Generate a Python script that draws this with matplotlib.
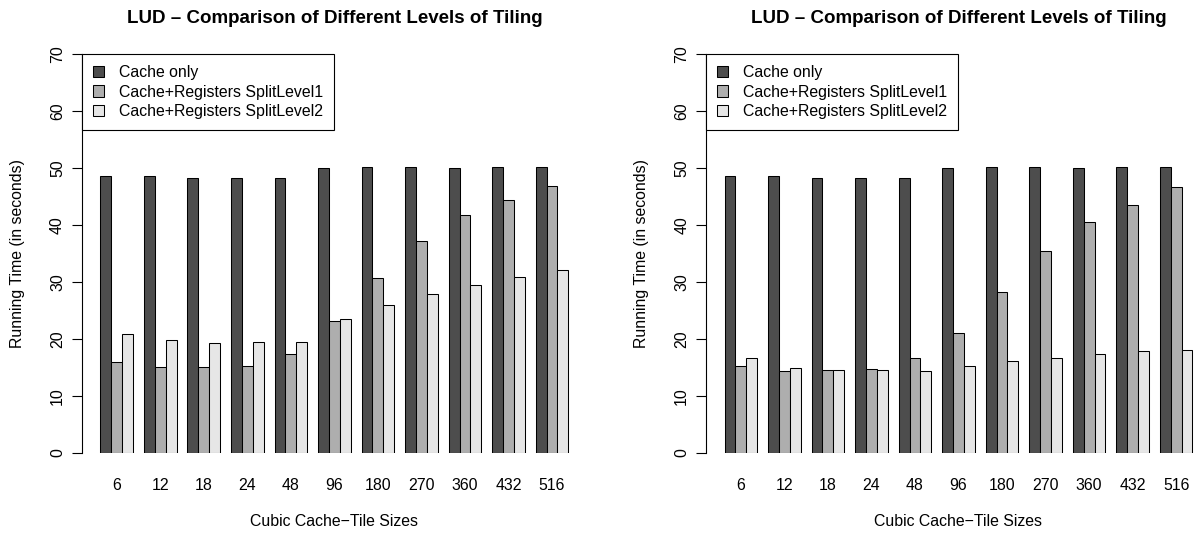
import matplotlib
matplotlib.use("Agg")
import matplotlib.pyplot as plt
import numpy as np

plt.rcParams['font.family'] = ['Liberation Sans', 'DejaVu Sans']

categories = ["6", "12", "18", "24", "48", "96", "180", "270", "360", "432", "516"]
series_names = ["Cache only", "Cache+Registers SplitLevel1", "Cache+Registers SplitLevel2"]

# Left panel
left_cache = [48.5, 48.6, 48.3, 48.2, 48.2, 49.9, 50.2, 50.2, 50.0, 50.2, 50.2]
left_sl1 = [16.0, 15.1, 15.0, 15.2, 17.3, 23.2, 30.6, 37.1, 41.7, 44.4, 46.9]
left_sl2 = [20.8, 19.7, 19.3, 19.4, 19.5, 23.4, 25.9, 27.9, 29.4, 30.9, 32.0]

# Right panel
right_cache = [48.5, 48.6, 48.3, 48.2, 48.2, 49.9, 50.2, 50.2, 50.0, 50.2, 50.2]
right_sl1 = [15.2, 14.3, 14.5, 14.7, 16.7, 21.1, 28.3, 35.4, 40.5, 43.5, 46.6]
right_sl2 = [16.6, 14.9, 14.6, 14.5, 14.3, 15.2, 16.1, 16.7, 17.4, 17.9, 18.0]

yticks = [0, 10, 20, 30, 40, 50, 60, 70]
title = "LUD \u2013 Comparison of Different Levels of Tiling"
xlabel = "Cubic Cache\u2212Tile Sizes"
ylabel = "Running Time (in seconds)"

colors = ["#4D4D4D", "#AEAEAE", "#E6E6E6"]

W, H = 1204, 533
fig = plt.figure(figsize=(W / 100, H / 100), dpi=100)

FS = 11.4

def panel(left_px, series):
    ax = fig.add_axes([left_px / W, (H - 452.7) / H, 505.4 / W, (452.7 - 54) / H])
    n = len(categories)
    idx = np.arange(n)
    handles = []
    for j, vals in enumerate(series):
        x = 1 + 4 * idx + j + 0.5
        b = ax.bar(x, vals, width=1.0, color=colors[j], edgecolor="black",
                   linewidth=0.75, label=series_names[j])
        handles.append(b)
    ax.set_xlim(-0.72, 45.72)
    ax.set_ylim(0, 70)
    for s in ("top", "right", "bottom"):
        ax.spines[s].set_visible(False)
    ax.spines["left"].set_bounds(0, 70)
    ax.spines["left"].set_linewidth(0.8)
    ax.set_yticks(yticks)
    ax.set_yticklabels([str(t) for t in yticks])
    ax.tick_params(axis="y", length=7.2, width=0.8, pad=4.8, labelsize=FS,
                   labelrotation=90)
    for lab in ax.get_yticklabels():
        lab.set_va("center")
    ax.set_xticks(1 + 4 * idx + 1.5)
    ax.set_xticklabels(categories)
    ax.tick_params(axis="x", length=0, pad=18, labelsize=FS)
    leg = ax.legend(loc="upper left", bbox_to_anchor=(0, 1), borderaxespad=0,
                    fontsize=FS, frameon=True, fancybox=False, framealpha=1,
                    edgecolor="black", handlelength=0.715, handleheight=0.715,
                    borderpad=0.7, labelspacing=0.28, handletextpad=0.95)
    leg.get_frame().set_linewidth(0.8)
    for p in leg.get_patches():
        p.set_linewidth(0.75)
    cx = left_px + 505.4 / 2
    fig.text(cx / W, (H - 22.7) / H, title, ha="center", va="baseline",
             fontsize=13.5, fontweight="bold")
    fig.text(cx / W, 6.5 / H, xlabel, ha="center", va="baseline", fontsize=FS)
    fig.text((left_px - 56.6) / W, (H - 253.4) / H, ylabel, rotation=90,
             ha="right", va="center", fontsize=FS)
    return ax

panel(81.7, [left_cache, left_sl1, left_sl2])
panel(705.8, [right_cache, right_sl1, right_sl2])

fig.savefig("out.png", dpi=100)
